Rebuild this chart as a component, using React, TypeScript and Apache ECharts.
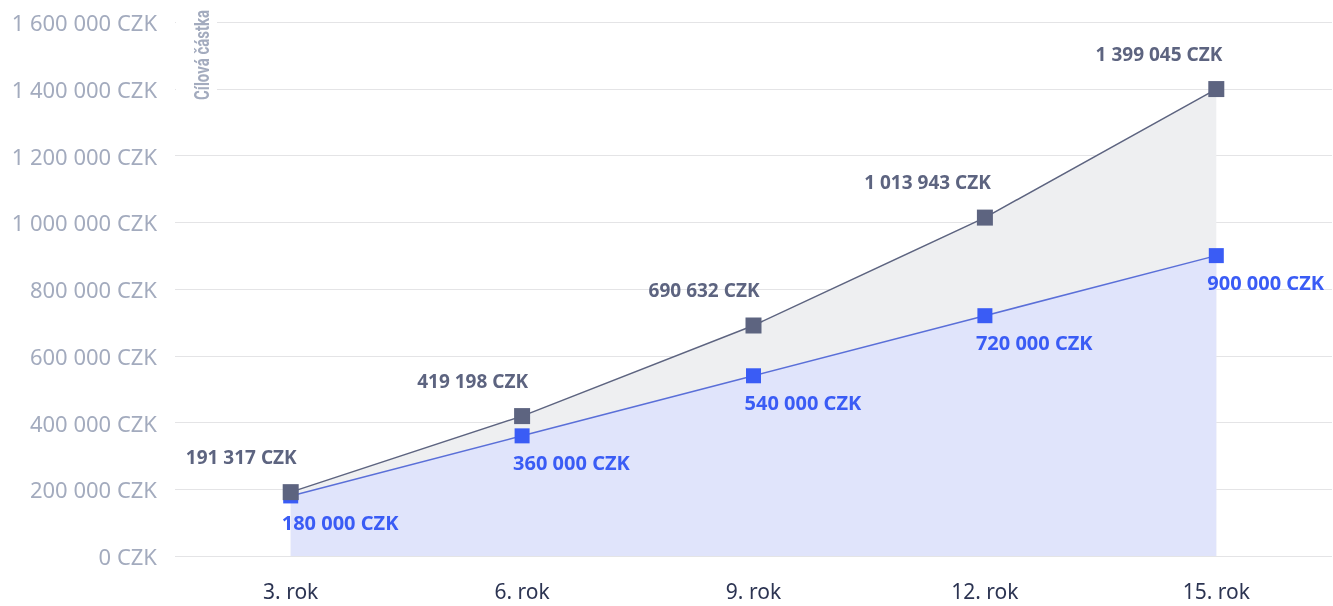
import React, { useEffect, useRef } from "react";
import * as echarts from "echarts";

const categories = ["3. rok", "6. rok", "9. rok", "12. rok", "15. rok"];
const targetValues = [191317, 419198, 690632, 1013943, 1399045];
const depositValues = [180000, 360000, 540000, 720000, 900000];
const yMin = 0;
const yMax = 1600000;
const yInterval = 200000;
const axisTitle = "Cílová částka";

const fmt = (v: number) =>
  String(Math.round(v)).replace(/\B(?=(\d{3})+(?!\d))/g, " ") + " CZK";

export default function App() {
  const ref = useRef<HTMLDivElement>(null);
  useEffect(() => {
    if (!ref.current) return;
    const chart = echarts.init(ref.current, undefined, { renderer: "svg" });
    const font = "'Noto Sans', 'Open Sans', sans-serif";
    chart.setOption({
      animation: false,
      textStyle: { fontFamily: font },
      grid: { left: 175, right: 1, top: 22, bottom: 50, containLabel: false },
      xAxis: {
        type: "category",
        data: categories,
        boundaryGap: true,
        axisLine: { show: false },
        axisTick: { show: false },
        axisLabel: {
          color: "#2c3452",
          fontSize: 21,
          lineHeight: 20,
          margin: 25,
          fontFamily: font,
        },
      },
      yAxis: {
        type: "value",
        min: yMin,
        max: yMax,
        interval: yInterval,
        axisLine: { show: false },
        axisTick: { show: false },
        splitLine: { lineStyle: { color: "#e4e4e6", width: 1 } },
        axisLabel: {
          color: "#a3abbe",
          fontSize: 22,
          margin: 18,
          fontFamily: font,
          formatter: (v: number) => fmt(v),
        },
      },
      graphic: [
        {
          type: "rect",
          z: 100,
          shape: { x: 176, y: 5, width: 41, height: 97 },
          style: { fill: "#ffffff" },
        },
        {
          type: "text",
          z: 101,
          x: 202,
          y: 55,
          rotation: Math.PI / 2,
          scaleX: 0.75,
          style: {
            text: axisTitle,
            fill: "#a3abbe",
            fontSize: 20,
            fontWeight: "bold",
            fontFamily: "Roboto, 'Noto Sans', sans-serif",
            align: "center",
            verticalAlign: "middle",
          },
        },
      ],
      series: [
        {
          type: "line",
          data: targetValues,
          symbol: "none",
          lineStyle: { width: 0 },
          areaStyle: { color: "#eeeff1", opacity: 1 },
          z: 1,
          silent: true,
        },
        {
          type: "line",
          data: depositValues,
          symbol: "rect",
          symbolSize: 15,
          lineStyle: { color: "#5a6fd8", width: 1.5 },
          itemStyle: { color: "#3a5cf5" },
          areaStyle: { color: "#e0e4fb", opacity: 1 },
          label: {
            show: true,
            position: "bottom",
            distance: 9,
            align: "left",
            offset: [-9, 0],
            color: "#3a5cf5",
            fontSize: 20,
            fontWeight: "bold",
            fontFamily: font,
            formatter: (p: any) => fmt(p.value),
          },
          z: 2,
        },
        {
          type: "line",
          data: targetValues,
          symbol: "rect",
          symbolSize: 16,
          lineStyle: { color: "#5d6480", width: 1.5 },
          itemStyle: { color: "#5d6480" },
          label: {
            show: true,
            position: "top",
            distance: 18,
            align: "right",
            offset: [6, 0],
            color: "#5d6480",
            fontSize: 19,
            fontWeight: "bold",
            fontFamily: font,
            formatter: (p: any) => fmt(p.value),
          },
          z: 3,
        },
      ],
    });
    return () => chart.dispose();
  }, []);
  return (
    <div
      ref={ref}
      style={{ position: "fixed", left: 0, top: 0, width: 1333, height: 606 }}
    />
  );
}
